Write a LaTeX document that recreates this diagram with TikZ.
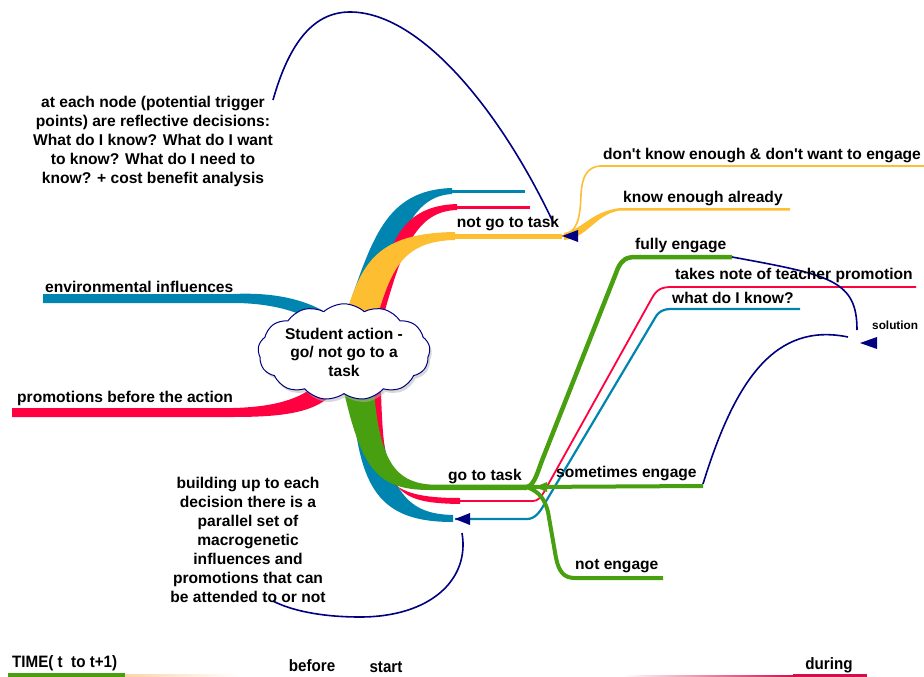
\documentclass[tikz,border=0pt]{standalone}
\usepackage{fontspec}
\setmainfont[Ligatures=TeXOff]{Liberation Sans}
\newfontfamily\narrowfont[FakeStretch=0.92]{Liberation Sans}
\usepackage{tikz}
\usetikzlibrary{shapes.symbols, shadows, calc, positioning}
\definecolor{mapblue}{RGB}{0,132,176}
\definecolor{mapred}{RGB}{255,0,64}
\definecolor{mapyellow}{RGB}{253,190,50}
\definecolor{mapgreen}{RGB}{72,160,16}
\definecolor{mapnavy}{RGB}{0,0,128}
\definecolor{mappeach}{RGB}{253,212,170}
\definecolor{mapcrimson}{RGB}{208,16,76}
\tikzstyle{tag} = [font=\bfseries\fontsize{15.6}{19}\selectfont, inner sep=0pt, text=black]
\tikzstyle{blurb} = [tag, align=center]
\tikzstyle{thought} = [cloud, cloud puffs=13, cloud puff arc=85, aspect=2, draw=mapnavy, fill=white, line width=1pt, minimum width=172pt, minimum height=85pt, align=center, font=\bfseries\fontsize{15.6}{18.5}\selectfont, inner sep=0pt, drop shadow={shadow xshift=2pt, shadow yshift=-3pt, fill=black!30}]
\tikzstyle{backlink} = [draw=mapnavy, line width=1.6pt]
\tikzstyle{tiphead} = [fill=mapnavy]
\tikzstyle{timetag} = [font=\narrowfont\bfseries\fontsize{16.5}{18}\selectfont, inner sep=0pt]

\begin{document}
\begin{tikzpicture}[x=1pt, y=-1pt]
	\useasboundingbox (0,0) rectangle (924,677);
	\coordinate (TopFork) at (453,236);
	\coordinate (TopEnd) at (562,236);
	\coordinate (GoFork) at (527,487);
	\coordinate (SolutionTip) at (860,343);
	\coordinate (BlueTip) at (455,519);
	% bands above the cloud
	\fill[mapblue] (346,314) .. controls (372,240) and (385,190) .. (452,188) -- (452,194) .. controls (412,196) and (396,240) .. (382,314) -- cycle;
	\draw[mapblue, line width=3] (450,191) -- (525,191);
	\fill[mapred] (372,314) .. controls (388,250) and (396,206) .. (457,204) -- (457,210) .. controls (416,211) and (402,250) .. (384,314) -- cycle;
	\draw[mapred, line width=3] (455,207) -- (530,207);
	\fill[mapyellow] (346,314) .. controls (362,262) and (378,233) .. (455,232) -- (455,240) .. controls (404,241) and (392,268) .. (378,314) -- cycle;
	\draw[mapyellow, line width=5] (TopFork) -- (TopEnd);
	% bands on the left
	\fill[mapblue] (43,294) -- (233,294) .. controls (275,292) and (305,300) .. (325,312) -- (312,320) .. controls (292,309) and (265,303) .. (233,303) -- (43,303) -- cycle;
	\fill[mapred] (12,408) -- (233,408) .. controls (272,407) and (296,400) .. (312,388) -- (328,398) .. controls (310,413) and (280,417) .. (233,417) -- (12,417) -- cycle;
	% bands below the cloud
	\fill[mapblue] (352,392) .. controls (358,490) and (380,522) .. (453,522) -- (453,515) .. controls (405,514) and (385,490) .. (378,392) -- cycle;
	\fill[mapred] (370,392) .. controls (373,480) and (385,498) .. (460,498) -- (460,504) .. controls (392,503) and (384,490) .. (381,392) -- cycle;
	\fill[mapgreen] (344,392) .. controls (362,470) and (378,490) .. (430,490) -- (527,490) -- (527,484.5) -- (430,484.5) .. controls (395,482) and (380,460) .. (374,392) -- cycle;
	\node (Action) [thought] at (344,352) {Student action -\\go/ not go to a\\task};
	% branches on the right
	\draw[mapyellow, line width=1.6] (TopEnd) .. controls (578,232) and (580,218) .. (581,195) .. controls (582,175) and (588,167) .. (600,166) -- (924,166);
	\fill[mapyellow] (564,233) .. controls (585,228) and (590,212) .. (620,208) -- (790,208) -- (790,210.5) -- (620,210.5) .. controls (595,214) and (588,238) .. (564,240) -- cycle;
	\draw[mapred, line width=1.8] (458,501) -- (533,501) .. controls (538,501) and (541,497) .. (544,492) -- (652,298) .. controls (657,289) and (662,287) .. (672,287) -- (916,287);
	\draw[mapblue, line width=2.2] (BlueTip) -- (527,519) .. controls (535,519) and (540,512) .. (545,503) -- (655,318) .. controls (659,311) and (663,309) .. (672,309) -- (800,309);
	\draw[mapgreen, line width=4.5] (GoFork) .. controls (535,485) and (538,470) .. (543,458) -- (618,268) .. controls (622,260) and (626,257) .. (636,257) -- (732,257);
	\draw[mapgreen, line width=4] (GoFork) -- (703,486);
	\fill[mapgreen] (535,487) -- (547,482) -- (547,492) -- cycle;
	\draw[mapgreen, line width=4] (GoFork) .. controls (540,492) and (545,500) .. (548,512) -- (556,558) .. controls (559,572) and (564,578) .. (575,578) -- (663,578);
	% reflective links
	\draw[backlink] (273,100) .. controls (290,40) and (315,12) .. (350,12) .. controls (420,12) and (500,110) .. (553,222);
	\draw[backlink] (462,533) .. controls (470,580) and (430,617) .. (360,617) .. controls (320,617) and (290,610) .. (273,601);
	\draw[backlink] (732,257) .. controls (830,275) and (857,280) .. (857,330);
	\draw[backlink] (703,484) .. controls (735,380) and (775,322) .. (848,337);
	\fill[tiphead] (TopEnd) -- ++(16,-6) -- ++(0,12) -- cycle;
	\fill[tiphead] (SolutionTip) -- ++(17,-6) -- ++(0,12) -- cycle;
	\fill[tiphead] (BlueTip) -- ++(15,-6) -- ++(0,12) -- cycle;
	% texts
	\node (TriggerNote) [blurb] at (153,141) {at each node (potential trigger\\points) are reflective decisions:\\What do I know? What do I want\\to know? What do I need to\\know? + cost benefit analysis};
	\node (BuildingNote) [blurb] at (248,540) {building up to each\\decision there is a\\parallel set of\\macrogenetic\\influences and\\promotions that can\\be attended to or not};
	\node (Environment) [tag, anchor=west] at (45,287) {environmental influences};
	\node (Promotions) [tag, anchor=west] at (17,398) {promotions before the action};
	\node (NotGoTask) [tag] at (508,223) {not go to task};
	\node (DontKnow) [tag, anchor=west] at (603,156) {don't know enough \& don't want to engage};
	\node (KnowEnough) [tag, anchor=west] at (623,199) {know enough already};
	\node (FullyEngage) [tag, anchor=west] at (635,245) {fully engage};
	\node (TeacherPromotion) [tag, anchor=west] at (675,275) {takes note of teacher promotion};
	\node (WhatKnow) [tag, anchor=west] at (672,298) {what do I know?};
	\node (Solution) [tag, font=\bfseries\fontsize{11.8}{14}\selectfont, anchor=west] at (872,325) {solution};
	\node (GoTask) [tag] at (485,476) {go to task};
	\node (Sometimes) [tag, anchor=west] at (556,473) {sometimes engage};
	\node (NotEngage) [tag, anchor=west] at (575,566) {not engage};
	% time line
	\fill[mapgreen] (8,673) rectangle (125,677);
	\shade[left color=mappeach, right color=white] (125,674) rectangle (240,677);
	\shade[left color=white, right color=mapcrimson] (623,675) rectangle (793,677);
	\fill[mapcrimson] (793,674) rectangle (867,677);
	\node (Time) [timetag, anchor=west] at (12,663) {TIME( t~ to t+1)};
	\node (Before) [timetag] at (312,666) {before};
	\node (Start) [timetag] at (386,667) {start};
	\node (During) [timetag] at (829,665) {during};
\end{tikzpicture}
\end{document}
